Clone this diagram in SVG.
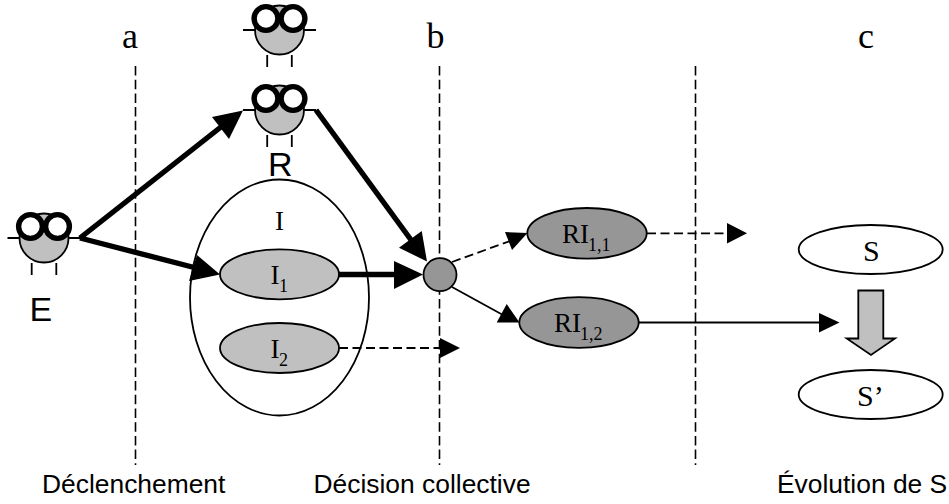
<svg xmlns="http://www.w3.org/2000/svg" width="949" height="504" viewBox="0 0 949 504">
<style>
.s{font-family:"Liberation Serif","Times New Roman",serif;fill:#000}
.a{font-family:"Liberation Sans",Arial,sans-serif;fill:#000}
.lab{font-size:36px}
.in{font-size:27px}
.sub{font-size:18px}
.cap{font-size:26.4px}
.big{font-size:34px}
.v{stroke:#000;stroke-width:1.6;stroke-dasharray:9.5 4.2;fill:none}
.th{stroke:#000;stroke-width:5.4;fill:none}
.da{stroke:#000;stroke-width:1.8;stroke-dasharray:9 4.5;fill:none}
.so{stroke:#000;stroke-width:1.8;fill:none}
.h{fill:#000;stroke:none}
.e{stroke:#000;stroke-width:1.8}
.lt{fill:#c0c0c0}
.dk{fill:#969696}
.w{fill:#fff}
</style>
<defs>
<g id="bug">
<circle cx="0" cy="0" r="24.5" fill="#c0c0c0" stroke="#000" stroke-width="1.8"/>
<path d="M-36.5 0H-24M24 0H36.5M-12.3 25V37M12.3 25V37" stroke="#000" stroke-width="1.8" fill="none"/>
<circle cx="-13.5" cy="-11.5" r="11.9" fill="#fff" stroke="#000" stroke-width="5.4"/>
<circle cx="13.5" cy="-11.5" r="11.9" fill="#fff" stroke="#000" stroke-width="5.4"/>
</g>
</defs>
<g id="separators">
<path class="v" d="M135.5 66V465"/>
<path class="v" d="M439.5 66V465"/>
<path class="v" d="M695.5 66V465"/>
</g>
<g id="node-I"><ellipse class="e w" cx="279.5" cy="297.5" rx="89.5" ry="118"/><text class="s in" x="275" y="230">I</text></g>
<g id="connectors">
<path class="th" d="M80 238L226 123"/><polygon class="h" points="243,110.5 212,117 229,139"/>
<path class="th" d="M80 238L200 269"/><polygon class="h" points="220,274.5 197,255 189,281"/>
<path class="th" d="M316 110L414 244"/><polygon class="h" points="427,261.5 399,247.7 421.7,231"/>
<path class="th" d="M339 274.5H396"/><polygon class="h" points="423,274.5 394,261 394,289"/>
<path class="da" d="M339 348H441"/><polygon class="h" points="460,348 440,338 440,358"/>
<path class="da" d="M452 262L510 241"/><polygon class="h" points="527.5,233 505,232 512,250"/>
<path class="so" d="M452 287L503 315"/><polygon class="h" points="519.5,322.5 506.7,304 496.7,322.5"/>
<path class="da" d="M647 233.3H728"/><polygon class="h" points="747,233.3 727,223 727,243.5"/>
<path class="so" d="M639 322.5H820"/><polygon class="h" points="839.5,322.5 819,313 819,332.5"/>
</g>
<g id="node-R-top"><use href="#bug" x="279.5" y="30"/></g>
<g id="node-R"><use href="#bug" x="279.5" y="110"/><text class="a big" x="268" y="176">R</text></g>
<g id="node-E"><use href="#bug" x="44" y="238"/><text class="a big" x="29.5" y="321">E</text></g>
<g id="node-I1"><ellipse class="e lt" cx="279.5" cy="274.3" rx="59.5" ry="25"/><text class="s in" x="270.5" y="284">I</text><text class="s sub" x="279" y="292">1</text></g>
<g id="node-I2"><ellipse class="e lt" cx="279.5" cy="348" rx="59.5" ry="25"/><text class="s in" x="270.5" y="358">I</text><text class="s sub" x="279" y="366">2</text></g>
<g id="node-C"><circle class="e dk" cx="440" cy="274.7" r="16.5"/></g>
<g id="node-RI11"><ellipse class="e dk" cx="587" cy="233.3" rx="59.7" ry="25.3"/><text class="s in" x="562" y="242.7">RI</text><text class="s sub" x="588" y="250.7">1,1</text></g>
<g id="node-RI12"><ellipse class="e dk" cx="579" cy="322.5" rx="59.7" ry="25.3"/><text class="s in" x="554" y="332">RI</text><text class="s sub" x="580" y="340">1,2</text></g>
<g id="node-S"><ellipse class="e w" cx="870.7" cy="249.5" rx="72" ry="24.5"/><text class="s in" x="863" y="261" style="font-size:30px">S</text></g>
<g id="node-S2"><ellipse class="e w" cx="870.7" cy="394.5" rx="72" ry="24.5"/><text class="s in" x="857" y="405.5" style="font-size:30px">S’</text></g>
<g id="block-arrow"><polygon class="e lt" points="858.3,290.5 883.3,290.5 883.3,338.5 895,338.5 871,355 846.7,338.5 858.3,338.5"/></g>
<g id="labels">
<text class="s lab" x="122" y="47.7">a</text>
<text class="s lab" x="426.5" y="47.7">b</text>
<text class="s lab" x="858" y="47.7">c</text>
<text class="a cap" x="42" y="493.3">Déclenchement</text>
<text class="a cap" x="313.5" y="493.3">Décision collective</text>
<text class="a cap" x="777" y="493.3">Évolution de S</text>
</g>
</svg>
